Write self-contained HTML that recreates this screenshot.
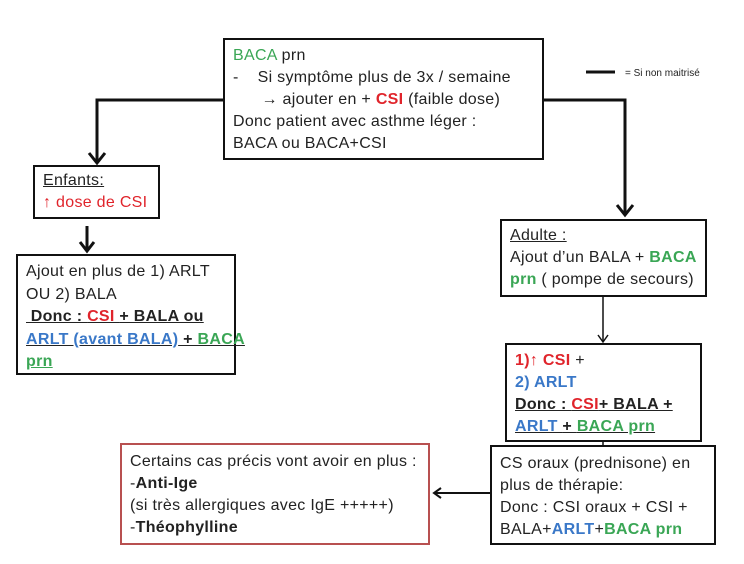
<!DOCTYPE html>
<html><head><meta charset="utf-8"><style>
body{margin:0;width:744px;height:564px;background:#fff;position:relative;overflow:hidden;font-family:"Liberation Sans",sans-serif;font-size:16px;color:#222}
.b{position:absolute;border:2px solid #111;box-sizing:border-box;padding:3px 0 0 8px;line-height:22px;white-space:nowrap;letter-spacing:0.3px;background:#fff}
.g{color:#3aa655}.r{color:#e0242b}.bl{color:#3a78c8}.u{text-decoration:underline}
svg{position:absolute;left:0;top:0}
</style></head><body>
<svg width="744" height="564">
<g stroke="#111" stroke-width="3" fill="none">
<polyline points="224,100 97,100 97,162"/>
<polyline points="89,153 97,163 105,153"/>
<polyline points="544,100 625,100 625,214"/>
<polyline points="617,205 625,215 633,205"/>
<line x1="87" y1="226" x2="87" y2="250"/>
<polyline points="80,242 87,251 94,242"/>
<line x1="586" y1="72" x2="615" y2="72"/>
</g>
<g stroke="#111" stroke-width="1.5" fill="none">
<line x1="603" y1="297" x2="603" y2="342"/>
<polyline points="598,335 603,342 608,335"/>
<line x1="603" y1="440" x2="603" y2="445"/>
<line x1="490" y1="493" x2="434" y2="493" stroke-width="2"/>
<polyline points="441,488 434,493 441,498" stroke-width="2"/>
</g>
<text x="625" y="76" font-family="Liberation Sans" font-size="10" fill="#222">= Si non maitrisé</text>
</svg>
<div class="b" style="left:223px;top:38px;width:321px;height:122px;padding-top:5px"><span class="g">BACA</span> prn<br>-&nbsp;&nbsp;&nbsp; Si symptôme plus de 3x / semaine<br>&nbsp;&nbsp;&nbsp;&nbsp;&nbsp;&nbsp;→ ajouter en + <b class="r">CSI</b> (faible dose)<br>Donc patient avec asthme léger :<br>BACA ou BACA+CSI</div>
<div class="b" style="left:33px;top:165px;width:127px;height:54px;padding-top:3px"><span class="u">Enfants:</span><br><span class="r">↑ dose de CSI</span></div>
<div class="b" style="left:16px;top:254px;width:220px;height:121px;padding-top:5px;line-height:22.5px">Ajout en plus de 1) ARLT<br>OU 2) BALA<br><b class="u">&nbsp;Donc : <span class="r">CSI </span>+ BALA ou</b><br><b class="u"><span class="bl">ARLT (avant BALA)</span> + <span class="g">BACA</span></b><br><b class="g u">prn</b></div>
<div class="b" style="left:500px;top:219px;width:207px;height:78px;padding-top:4px"><span class="u">Adulte :</span><br>Ajout d’un BALA + <b class="g">BACA</b><br><b class="g">prn</b> ( pompe de secours)</div>
<div class="b" style="left:505px;top:343px;width:197px;height:99px;padding-top:5px"><b class="r">1)↑ CSI</b> +<br><b class="bl">2) ARLT</b><br><b class="u">Donc : <span class="r">CSI</span>+ BALA +</b><br><b class="u"><span class="bl">ARLT </span>+ <span class="g">BACA prn</span></b></div>
<div class="b" style="left:490px;top:445px;width:226px;height:100px;padding-top:6px">CS oraux (prednisone) en<br>plus de thérapie:<br>Donc : CSI oraux + CSI +<br>BALA+<b class="bl">ARLT</b>+<b class="g">BACA prn</b></div>
<div class="b" style="left:120px;top:443px;width:310px;height:102px;padding-top:6px;border-color:#b85050">Certains cas précis vont avoir en plus :<br>-<b>Anti-Ige</b><br>(si très allergiques avec IgE +++++)<br>-<b>Théophylline</b></div>
</body></html>
